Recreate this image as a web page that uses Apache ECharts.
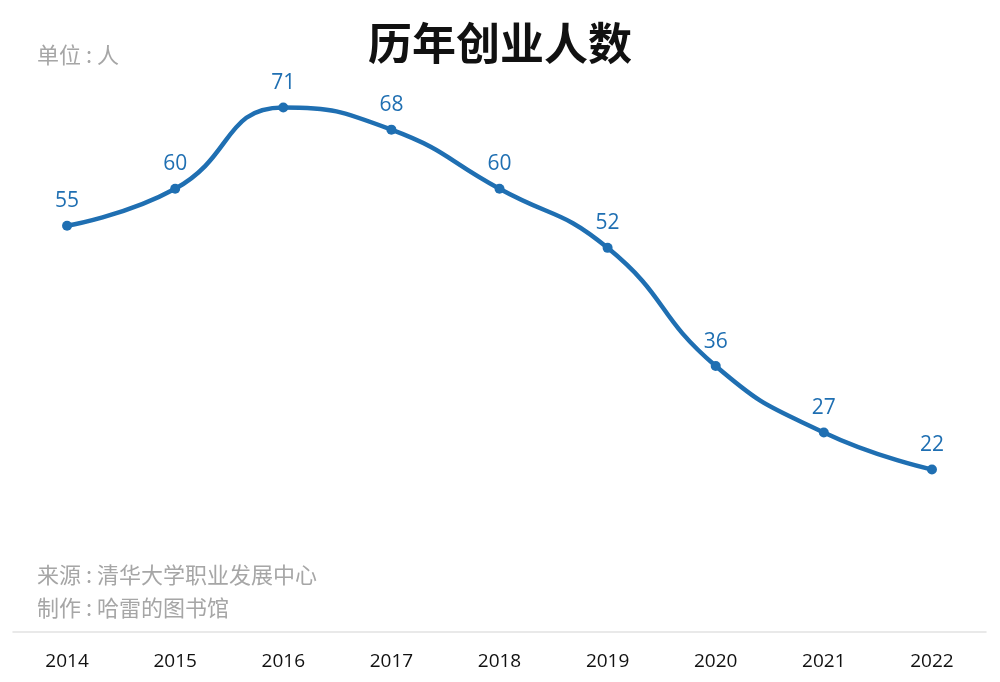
<!DOCTYPE html>
<html><head><meta charset="utf-8">
<script src="https://cdn.jsdelivr.net/npm/echarts@6/dist/echarts.min.js"></script>
<style>html,body{margin:0;padding:0;background:#fff}#c{width:1000px;height:682px}</style>
</head><body><div id="c"></div>
<script>
const years = ['2014','2015','2016','2017','2018','2019','2020','2021','2022'];
const founders = [55, 60, 71, 68, 60, 52, 36, 27, 22];
const titleText = '历年创业人数';
const unitText = '单位 : 人';
const sourceText = '来源 : 清华大学职业发展中心';
const makerText = '制作 : 哈雷的图书馆';

const chart = echarts.init(document.getElementById('c'));
const cjk = '"Noto Sans CJK SC", sans-serif';
const gray = {fontFamily: cjk, fontSize: 22, fontWeight: 'normal', color: '#a6a6a6'};
chart.setOption({
  backgroundColor: '#fff',
  animation: false,
  title: [
    {text: titleText, left: 'center', top: 16, textStyle: {fontFamily: cjk, fontSize: 44, fontWeight: 'bold', color: '#111'}},
    {text: unitText, left: 32, top: 39, textStyle: gray},
    {text: sourceText, left: 32, top: 559, textStyle: gray},
    {text: makerText, left: 32, top: 592, textStyle: gray}
  ],
  grid: {left: 13, right: 14, top: 41, bottom: 50},
  xAxis: {
    type: 'category', data: years, boundaryGap: true,
    axisLine: {lineStyle: {color: '#e2e2e2', width: 1.5}},
    axisTick: {show: false},
    axisLabel: {fontFamily: '"Open Sans", sans-serif', fontSize: 19, color: '#111', margin: 20}
  },
  yAxis: {type: 'value', min: 0, max: 80, show: false, splitLine: {show: false}},
  series: [{
    type: 'line', data: founders, smooth: 0.5,
    symbol: 'circle', symbolSize: 10,
    lineStyle: {color: '#1f6fb2', width: 4.5},
    itemStyle: {color: '#1f6fb2'},
    label: {show: true, position: 'top', distance: 9, fontFamily: '"Open Sans", sans-serif', fontSize: 21, color: '#1f6fb2'}
  }]
});
</script></body></html>
